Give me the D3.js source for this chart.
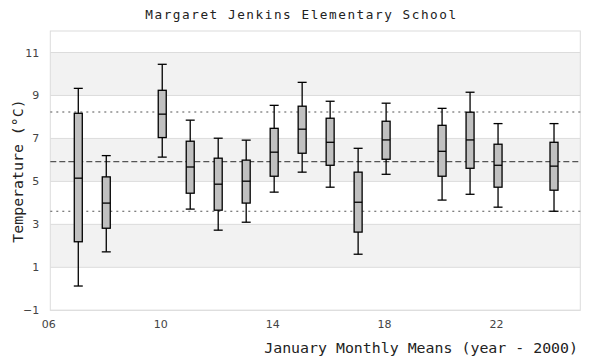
<!DOCTYPE html>
<html><head><meta charset="utf-8">
<script src="https://cdn.jsdelivr.net/npm/d3@7"></script>
<style>body{margin:0;background:#fff}</style>
</head><body>
<svg id="c" width="600" height="360"></svg>
<script>
const years   = [7, 8, 10, 11, 12, 13, 14, 15, 16, 17, 18, 20, 21, 22, 24];
const whiskLo = [0.13, 1.72, 6.13, 3.71, 2.73, 3.10, 4.50, 5.43, 4.73, 1.61, 5.33, 4.13, 4.40, 3.80, 3.61];
const q1      = [2.19, 2.82, 7.04, 4.45, 3.66, 3.99, 5.24, 6.31, 5.75, 2.64, 6.03, 5.24, 5.61, 4.73, 4.59];
const median  = [5.15, 3.99, 8.13, 5.67, 4.87, 5.01, 6.36, 7.43, 6.82, 4.03, 6.93, 6.40, 6.93, 5.75, 5.71];
const q3      = [8.17, 5.21, 9.24, 6.87, 6.08, 5.99, 7.47, 8.50, 7.94, 5.43, 7.80, 7.61, 8.22, 6.73, 6.82];
const whiskHi = [9.33, 6.20, 10.45, 7.85, 7.01, 6.92, 8.54, 9.61, 8.73, 6.54, 8.64, 8.40, 9.15, 7.69, 7.69];
const meanVal = 5.92;
const sdVal = 2.31;
const yTicks = [-1, 1, 3, 5, 7, 9, 11];
const xTicks = [6, 10, 14, 18, 22];
const bands = [[9, 11], [5, 7], [1, 3]];

const svg = d3.select("#c");
const L = 50.3, R = 582, T = 31, B = 310.3, PR = 580.3;
const x = d3.scaleLinear().domain([6, 25]).range([L, R]);
const y = d3.scaleLinear().domain([-1, 12]).range([B, T]);

// bands
svg.append("g").selectAll("rect").data(bands).join("rect")
  .attr("x", L).attr("width", PR - L)
  .attr("y", d => y(d[1])).attr("height", d => y(d[0]) - y(d[1]))
  .attr("fill", "#f2f2f2");
// grid
svg.append("g").selectAll("line").data(yTicks).join("line")
  .attr("x1", L).attr("x2", PR).attr("y1", d => y(d)).attr("y2", d => y(d))
  .attr("stroke", "#dcdcdc").attr("stroke-width", 1);
// border
svg.append("rect").attr("x", L).attr("y", T).attr("width", PR - L).attr("height", B - T)
  .attr("fill", "none").attr("stroke", "#dcdcdc").attr("stroke-width", 1);

// reference lines
const refs = [
  {v: meanVal + sdVal, dash: "2,4"},
  {v: meanVal, dash: "6,3"},
  {v: meanVal - sdVal, dash: "2,4"}
];
svg.append("g").selectAll("line").data(refs).join("line")
  .attr("x1", L).attr("x2", PR).attr("y1", d => y(d.v)).attr("y2", d => y(d.v))
  .attr("stroke", "#555").attr("stroke-width", 1.2).attr("stroke-dasharray", d => d.dash);

// boxes
const data = years.map((yr, i) => ({yr, lo: whiskLo[i], q1: q1[i], med: median[i], q3: q3[i], hi: whiskHi[i]}));
const bw = 8, cw = 9;
const g = svg.append("g").selectAll("g").data(data).join("g");
g.append("line").attr("x1", d => x(d.yr)).attr("x2", d => x(d.yr))
  .attr("y1", d => y(d.lo)).attr("y2", d => y(d.hi)).attr("stroke", "#000").attr("stroke-width", 1.3);
g.append("line").attr("x1", d => x(d.yr) - cw/2).attr("x2", d => x(d.yr) + cw/2)
  .attr("y1", d => y(d.hi)).attr("y2", d => y(d.hi)).attr("stroke", "#000").attr("stroke-width", 1.3);
g.append("line").attr("x1", d => x(d.yr) - cw/2).attr("x2", d => x(d.yr) + cw/2)
  .attr("y1", d => y(d.lo)).attr("y2", d => y(d.lo)).attr("stroke", "#000").attr("stroke-width", 1.3);
g.append("rect").attr("x", d => x(d.yr) - bw/2).attr("width", bw)
  .attr("y", d => y(d.q3)).attr("height", d => y(d.q1) - y(d.q3))
  .attr("fill", "#c0c0c0").attr("stroke", "#000").attr("stroke-width", 1.3);
g.append("line").attr("x1", d => x(d.yr) - bw/2).attr("x2", d => x(d.yr) + bw/2)
  .attr("y1", d => y(d.med)).attr("y2", d => y(d.med)).attr("stroke", "#000").attr("stroke-width", 1.3);

// axes
const yAxis = d3.axisLeft(y).tickValues(yTicks).tickSize(0).tickPadding(11).tickFormat(d3.format("d"));
const ya = svg.append("g").attr("transform", `translate(${L},0)`).call(yAxis);
const xAxis = d3.axisBottom(x).tickValues(xTicks).tickSize(0).tickPadding(10).tickFormat(d3.format("02d"));
const xa = svg.append("g").attr("transform", `translate(-2,${B})`).call(xAxis);
[ya, xa].forEach(a => {
  a.select(".domain").remove();
  a.selectAll("text").attr("fill", "#444").attr("font-family", "DejaVu Sans, sans-serif").attr("font-size", 11);
});

// titles
svg.append("text").attr("x", 301.5).attr("y", 19).attr("text-anchor", "middle")
  .attr("font-family", "DejaVu Sans Mono, monospace").attr("font-size", 12.7)
  .attr("letter-spacing", 1.55).attr("fill", "#222")
  .text("Margaret Jenkins Elementary School");
svg.append("text").attr("x", 578).attr("y", 353).attr("text-anchor", "end")
  .attr("font-family", "DejaVu Sans Mono, monospace").attr("font-size", 14.9).attr("fill", "#222")
  .text("January Monthly Means (year - 2000)");
svg.append("text").attr("transform", "translate(23,171) rotate(-90)").attr("text-anchor", "middle")
  .attr("font-family", "DejaVu Sans Mono, monospace").attr("font-size", 14.9).attr("fill", "#222")
  .text("Temperature (°C)");
</script>
</body></html>
